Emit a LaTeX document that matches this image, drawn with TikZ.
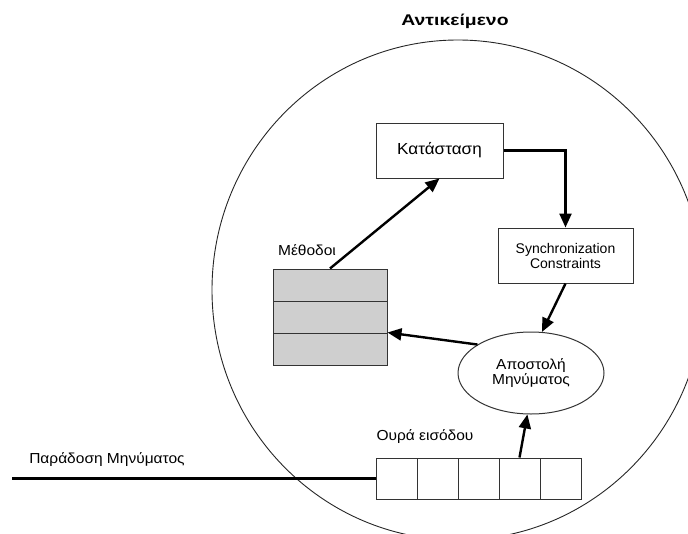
\documentclass[tikz,border=0pt]{standalone}
\usepackage{fontspec}
\setmainfont{Liberation Sans}
\newfontfamily\labelfont[FakeStretch=1.07]{Liberation Sans}
\newfontfamily\titlefont[FakeStretch=1.25]{Liberation Sans}
\usetikzlibrary{arrows.meta,shapes.geometric}
\begin{document}
\begin{tikzpicture}[x=1pt,y=-1pt,
  lbl/.style={font=\labelfont\fontsize{14.5}{16}\selectfont, inner sep=0pt},
  box/.style={draw=black!80, line width=1pt, rectangle, inner sep=0pt,
              font=\labelfont\fontsize{14.5}{16}\selectfont, align=center},
  cell/.style={box, minimum width=41pt, minimum height=41pt},
  mcell/.style={box, fill=black!19, minimum width=114pt, minimum height=32pt},
  flow/.style={line width=2.4pt, -{Triangle[length=14pt,width=12pt]}},
  wire/.style={line width=2.4pt}]
\useasboundingbox (0,0) rectangle (688,533);

% object boundary
\draw[line width=0.9pt, black!85] (458,290) ellipse [x radius=246pt, y radius=250pt];
\node[inner sep=0pt, font=\titlefont\fontsize{15.5}{17}\selectfont\bfseries] (title) at (455,21) {Αντικείμενο};

% state and synchronization constraints
\node[box, minimum width=127pt, minimum height=55pt, font=\labelfont\fontsize{16}{18}\selectfont] (state) at (439.5,150.5) {Κατάσταση};
\node[box, minimum width=135pt, minimum height=55pt, font=\fontsize{14}{16}\selectfont] (sync) at (565.5,255.5) {Synchronization\\[-1pt]Constraints};

% message dispatch
\node[draw=black!80, line width=1pt, ellipse, inner sep=0pt, minimum width=146pt, minimum height=82pt,
      font=\labelfont\fontsize{14.5}{16}\selectfont, align=center] (send) at (531,373) {Αποστολή\\[-1pt]Μηνύματος};

% methods table
\node[mcell] (m1) at (330,285) {};
\node[mcell] (m2) at (330,317) {};
\node[mcell] (m3) at (330,349) {};
\node[lbl] (mlabel) at (307,250) {Μέθοδοι};

% input queue
\node[cell] (q1) at (396.5,478.5) {};
\node[cell] (q2) at (437.5,478.5) {};
\node[cell] (q3) at (478.5,478.5) {};
\node[cell] (q4) at (519.5,478.5) {};
\node[cell] (q5) at (560.5,478.5) {};
\node[lbl] (qlabel) at (425,437) {Ουρά εισόδου};

% message delivery line
\coordinate (din) at (12,478.5);
\node[lbl] (dlabel) at (107,460) {Παράδοση Μηνύματος};
\draw[wire] (din) -- (q1.west);

% connectors
\draw[flow] (m1.north) -- (state.south);
\draw[flow] (state.east) -| (sync.north);
\draw[flow] (sync.south) -- (send.75);
\draw[flow] (send.152) -- (m3.north east);
\draw[flow] (q4.north) -- (send.265);
\end{tikzpicture}
\end{document}
